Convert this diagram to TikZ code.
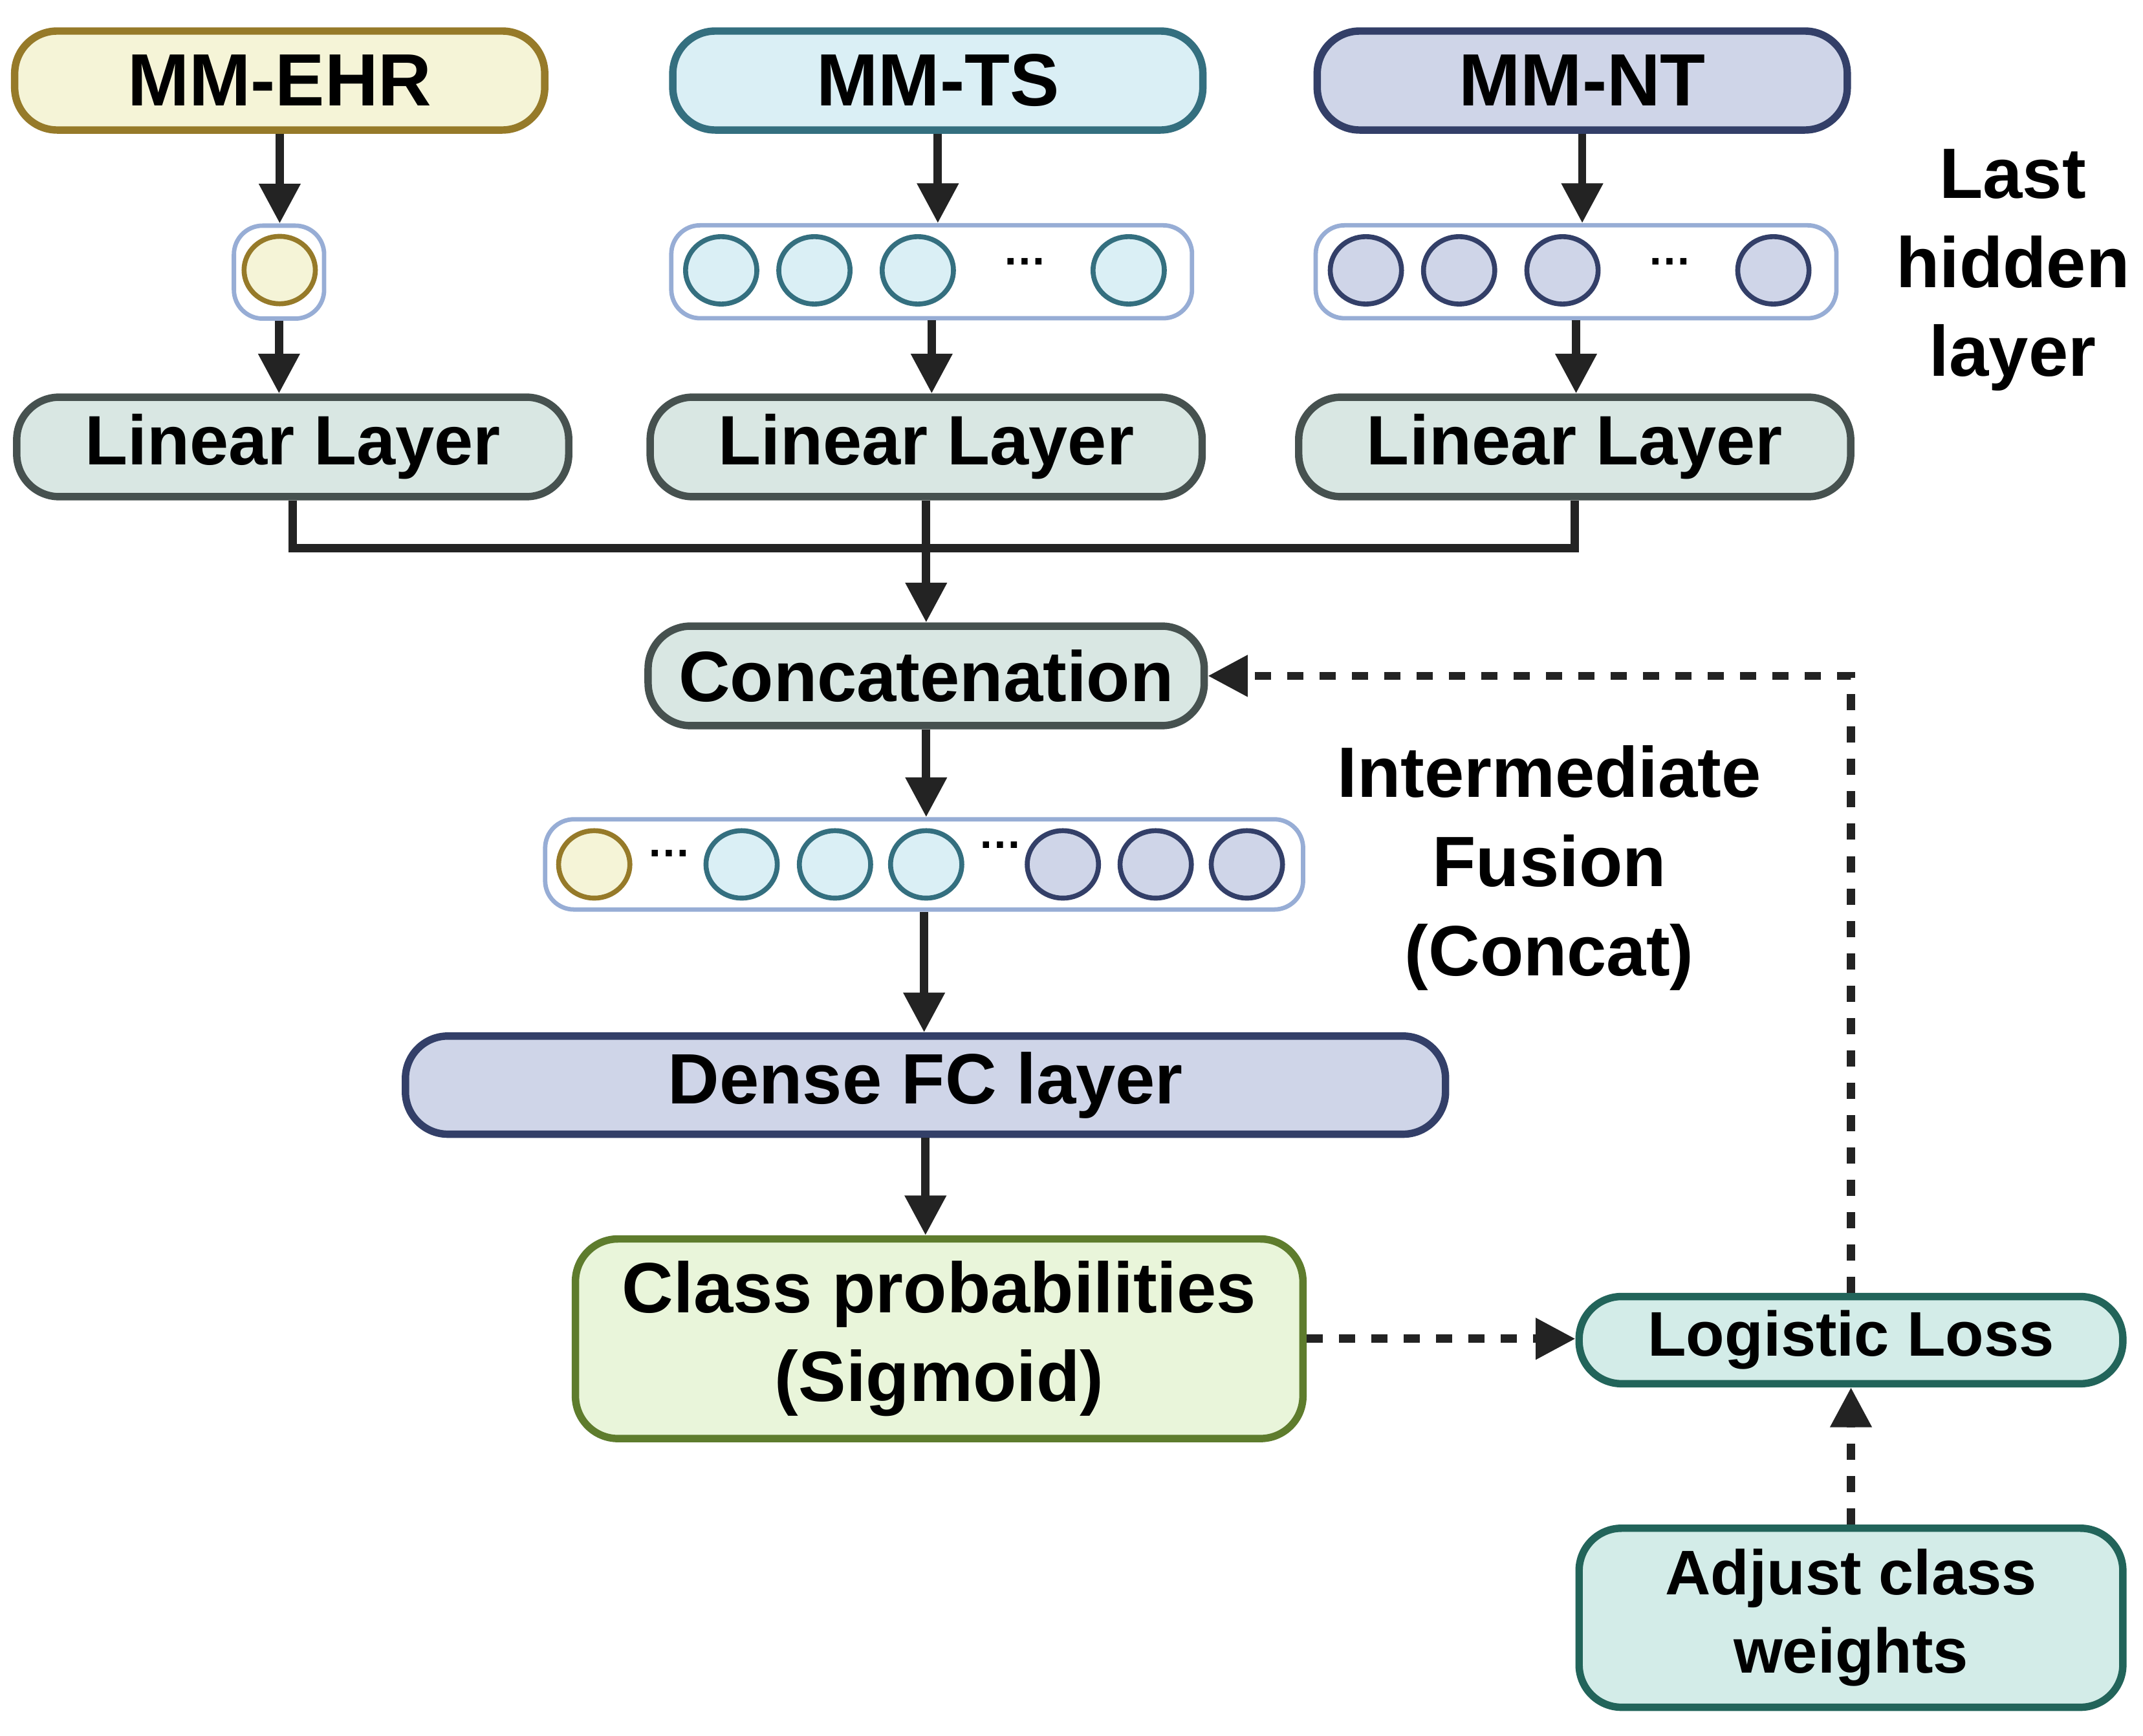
\documentclass[tikz,border=0pt]{standalone}
\usepackage{fontspec}
\setmainfont{Liberation Sans}
\usetikzlibrary{arrows.meta,shapes.geometric,calc}
\definecolor{ehrfill}{HTML}{F5F4D7}
\definecolor{ehrdraw}{HTML}{967A29}
\definecolor{tsfill}{HTML}{DAEFF5}
\definecolor{tsdraw}{HTML}{346F7F}
\definecolor{ntfill}{HTML}{CFD5E8}
\definecolor{ntdraw}{HTML}{333F68}
\definecolor{linfill}{HTML}{D9E7E3}
\definecolor{lindraw}{HTML}{46514F}
\definecolor{clsfill}{HTML}{E9F5DA}
\definecolor{clsdraw}{HTML}{5E7C2D}
\definecolor{lossfill}{HTML}{D3ECE8}
\definecolor{lossdraw}{HTML}{22645A}
\definecolor{contdraw}{HTML}{97ADD5}
\definecolor{arrowc}{HTML}{232323}
\begin{document}
\begin{tikzpicture}[x=0.5pt,y=-0.5pt,
  box/.style={draw, line width=2.7pt, rounded corners=15.5pt, inner sep=0pt, align=center, font=\bfseries\fontsize{26}{32.5}\selectfont},
  topbox/.style={box, minimum width=193.3pt, minimum height=36.1pt, font=\bfseries\fontsize{27}{32.5}\selectfont},
  linbox/.style={box, fill=linfill, draw=lindraw, minimum width=201.3pt, minimum height=36.3pt, font=\bfseries\fontsize{25.5}{32.5}\selectfont},
  lossbox/.style={box, fill=lossfill, draw=lossdraw, minimum width=198.3pt, font=\bfseries\fontsize{23}{28.5}\selectfont},
  cont/.style={draw=contdraw, line width=1.6pt, rounded corners=10.5pt, fill=white, minimum height=33.9pt, inner sep=0pt},
  neuron/.style={ellipse, line width=1.8pt, minimum width=26pt, minimum height=24.6pt, inner sep=0pt},
  ehrn/.style={neuron, draw=ehrdraw, fill=ehrfill},
  tsn/.style={neuron, draw=tsdraw, fill=tsfill},
  ntn/.style={neuron, draw=ntdraw, fill=ntfill},
  dots/.style={anchor=base, inner sep=0pt, font=\bfseries\fontsize{16}{16}\selectfont},
  arr/.style={draw=arrowc, line width=3pt, -{Triangle[width=14.5pt,length=14.5pt]}},
  darr/.style={arr, line width=3pt, dash pattern=on 5.9pt off 5.9pt},
  lbl/.style={align=center, inner sep=0pt, font=\bfseries\fontsize{26}{32.5}\selectfont}
]
\useasboundingbox (0,0) rectangle (1563,1266.2);

% top boxes
\node[topbox, fill=ehrfill, draw=ehrdraw] (mmehr) at (204,58.75) {MM-EHR};
\node[topbox, fill=tsfill, draw=tsdraw] (mmts) at (684,58.75) {MM-TS};
\node[topbox, fill=ntfill, draw=ntdraw] (mmnt) at (1154,58.75) {MM-NT};

% hidden layers
\node[cont, minimum width=32.9pt] (hidehr) at (203.5,198.5) {};
\node[ehrn] (e1) at (204,197) {};

\node[cont, minimum width=189.9pt] (hidts) at (679.5,198.25) {};
\node[tsn] (t1) at (526,197.2) {};
\node[tsn] (t2) at (594,197.2) {};
\node[tsn] (t3) at (669.4,197.2) {};
\node[tsn] (t4) at (823.2,197.2) {};
\node[dots] (tdots) at (747.7,193.4) {…};

\node[cont, minimum width=189.9pt] (hidnt) at (1149.5,198.25) {};
\node[ntn] (n1) at (996.2,197.2) {};
\node[ntn] (n2) at (1064.2,197.2) {};
\node[ntn] (n3) at (1139.6,197.2) {};
\node[ntn] (n4) at (1293.4,197.2) {};
\node[dots] (ndots) at (1217.9,193.4) {…};

% linear layers
\node[linbox] (linehr) at (213.5,326) {Linear Layer};
\node[linbox] (lints) at (675.5,326) {Linear Layer};
\node[linbox] (linnt) at (1148.5,326) {Linear Layer};

% concatenation
\node[box, fill=linfill, draw=lindraw, minimum width=202.8pt, minimum height=36.3pt] (concat) at (675.5,493) {Concatenation};

% concatenated vector
\node[cont, minimum width=276.4pt, minimum height=32.9pt] (hidcat) at (674,630.5) {};
\node[ehrn] (c1) at (433.4,630.5) {};
\node[dots] (cdots1) at (488,624.9) {…};
\node[tsn] (c2) at (540.9,630.5) {};
\node[tsn] (c3) at (609,630.5) {};
\node[tsn] (c4) at (675.5,630.5) {};
\node[dots] (cdots2) at (729.4,618.9) {…};
\node[ntn] (c5) at (775.2,630.5) {};
\node[ntn] (c6) at (842.9,630.5) {};
\node[ntn] (c7) at (909.4,630.5) {};

% dense
\node[box, fill=ntfill, draw=ntdraw, minimum width=379.3pt, minimum height=35.8pt] (dense) at (675,791.5) {Dense FC layer};

% class probabilities
\node[box, fill=clsfill, draw=clsdraw, minimum width=265.3pt, minimum height=72.8pt] (cls) at (685,976.5) {Class probabilities\\(Sigmoid)};

% loss
\node[lossbox, minimum height=31.8pt] (loss) at (1350,977.5) {Logistic Loss};
\node[lossbox, minimum height=65.3pt] (adjust) at (1350,1180) {Adjust class\\weights};

% labels
\node[lbl] (lastlbl) at (1468,197) {Last\\hidden\\layer};
\node[lbl] (fuslbl) at (1130,633) {Intermediate\\Fusion\\(Concat)};

% connectors
\draw[arr] (mmehr.south) -- (mmehr.south |- hidehr.north);
\draw[arr] (mmts.south) -- (mmts.south |- hidts.north);
\draw[arr] (mmnt.south) -- (mmnt.south |- hidnt.north);
\draw[arr] (hidehr.south) -- (hidehr.south |- linehr.north);
\draw[arr] (hidts.south) -- (hidts.south |- lints.north);
\draw[arr] (hidnt.south) -- (hidnt.south |- linnt.north);
\coordinate (bus) at (675.5,400);
\draw[draw=arrowc, line width=3pt] (linehr.south) |- (bus) -| (linnt.south);
\draw[arr] (lints.south) -- (concat.north);
\draw[arr] (concat.south) -- (concat.south |- hidcat.north);
\draw[arr] (hidcat.south) -- (hidcat.south |- dense.north);
\draw[arr] (dense.south) -- (dense.south |- cls.north);
\draw[darr] (cls.east) -- (cls.east -| loss.west);
\draw[darr] (adjust.north) -- (loss.south);
\draw[darr] (loss.north) |- (concat.east);
\end{tikzpicture}
\end{document}
